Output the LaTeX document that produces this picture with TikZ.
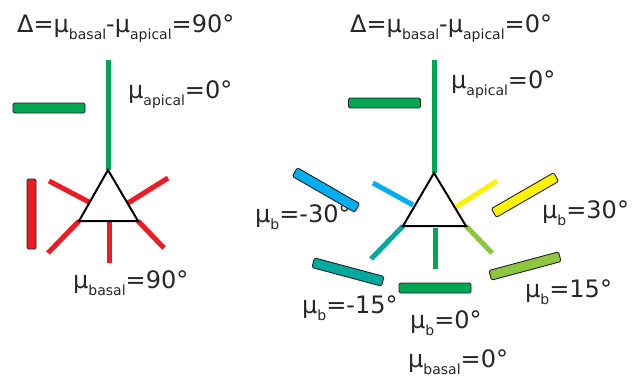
\documentclass[tikz,border=0pt]{standalone}
\usepackage{fontspec}
\setmainfont{DejaVu Sans}
\usetikzlibrary{positioning}
\definecolor{dendgreen}{RGB}{0,166,81}
\definecolor{dendred}{RGB}{237,28,36}
\definecolor{dendcyan}{RGB}{0,174,239}
\definecolor{dendyellow}{RGB}{255,242,0}
\definecolor{dendteal}{RGB}{0,169,157}
\definecolor{dendlime}{RGB}{141,198,63}
\definecolor{txtgray}{RGB}{40,38,38}
\definecolor{outl}{RGB}{35,31,32}
\newcommand{\musub}[1]{μ\raisebox{-7pt}{\fontsize{14}{15}\selectfont #1}}
\tikzset{
  lbl/.style={font=\fontsize{24}{28}\selectfont, text=txtgray, inner sep=0pt, anchor=base west},
  barbox/.style={draw=outl, line width=0.9pt, rounded corners=1.5pt, minimum width=72pt, minimum height=10pt, inner sep=0pt},
  spoke/.style={line width=5pt},
  soma/.style={draw=black, line width=2pt, fill=white, line join=miter}
}
\begin{document}
\begin{tikzpicture}[x=1pt,y=-1pt]
    \useasboundingbox (0,0) rectangle (637,376);

    % Left neuron
    \coordinate (lA) at (108,170);
    \coordinate (lB) at (79,221);
    \coordinate (lC) at (138,221);
    \coordinate (lApi) at (108,60);
    \draw[spoke, dendgreen] (lA) -- (lApi);
    \draw[spoke, dendred] (89,202) -- (49,181);
    \draw[spoke, dendred] (128,203) -- (168,178);
    \draw[spoke, dendred] (lB) -- (48,253);
    \draw[spoke, dendred] (lC) -- (164,248);
    \draw[spoke, dendred] (109,222) -- (109,263);
    \draw[soma] (lA) -- (lB) -- (lC) -- cycle;
    \node[barbox, fill=dendgreen] (lbarapi) at (49,108) {};
    \node[barbox, fill=dendred, rotate=90, minimum width=70pt, minimum height=9pt] (lbarbas) at (31.5,214) {};

    \node[lbl] (ldelta) at (17,32) {Δ=\musub{basal}-\musub{apical}=90°};
    \node[lbl] (lapi) at (128,98) {\musub{apical}=0°};
    \node[lbl] (lbas) at (73,288) {\musub{basal}=90°};

    % Right neuron
    \coordinate (rA) at (434,173);
    \coordinate (rB) at (403,226);
    \coordinate (rC) at (466,226);
    \coordinate (rApi) at (434,60);
    \draw[spoke, dendgreen] (rA) -- (rApi);
    \draw[spoke, dendcyan] (413,205) -- (373,183);
    \draw[spoke, dendyellow] (456,207) -- (497,181);
    \draw[spoke, dendteal] (rB) -- (371,259);
    \draw[spoke, dendlime] (rC) -- (492,253);
    \draw[spoke, dendgreen] (435,228) -- (435,269);
    \draw[soma] (rA) -- (rB) -- (rC) -- cycle;

    \node[lbl] (rdelta) at (350,32) {Δ=\musub{basal}-\musub{apical}=0°};
    \node[lbl] (rapi) at (451,88) {\musub{apical}=0°};
    \node[lbl] (rm30) at (255,222) {\musub{b}=-30°};
    \node[lbl] (rp30) at (542,218) {\musub{b}=30°};
    \node[lbl] (rm15) at (302,313) {\musub{b}=-15°};
    \node[lbl] (rp15) at (525,297) {\musub{b}=15°};
    \node[lbl] (rzero) at (410,328) {\musub{b}=0°};
    \node[lbl] (rbas) at (408,367) {\musub{basal}=0°};

    \node[barbox, fill=dendgreen] (rbarapi) at (384.5,103) {};
    \node[barbox, fill=dendcyan, rotate=-30] (rbarm30) at (326,190) {};
    \node[barbox, fill=dendyellow, rotate=30] (rbarp30) at (525,195) {};
    \node[barbox, fill=dendteal, rotate=-15] (rbarm15) at (348,272) {};
    \node[barbox, fill=dendlime, rotate=15] (rbarp15) at (525,266) {};
    \node[barbox, fill=dendgreen] (rbarzero) at (435,288) {};
\end{tikzpicture}
\end{document}
